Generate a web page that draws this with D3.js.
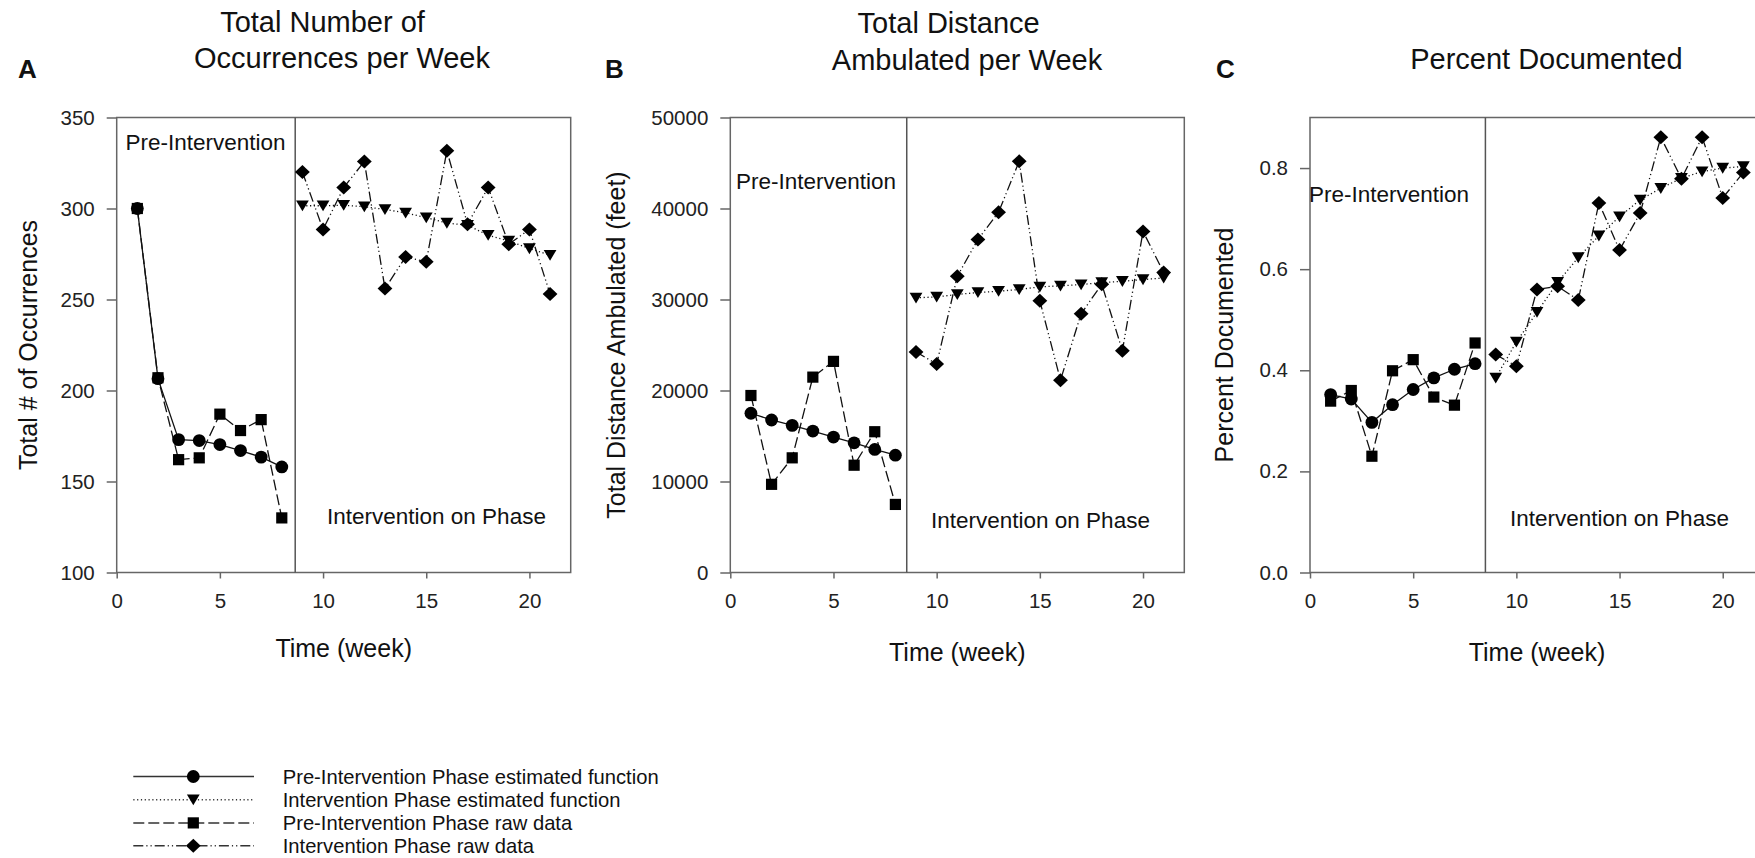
<!DOCTYPE html>
<html>
<head>
<meta charset="utf-8">
<script src="https://cdn.jsdelivr.net/npm/d3@7"></script>
<style>
  body { margin: 0; background: #fff; }
  svg { display: block; font-family: "Liberation Sans", Arial, sans-serif; }
</style>
</head>
<body>
<div id="chart"></div>
<script>
// weeks
const weeksPre = [1, 2, 3, 4, 5, 6, 7, 8];
const weeksInt = [9, 10, 11, 12, 13, 14, 15, 16, 17, 18, 19, 20, 21];

// A: total number of occurrences
const occPreEst = [300, 206.5, 173, 172.5, 170.3, 167, 163.4, 158];
const occPreRaw = [300, 207, 162, 163, 187, 178, 184, 130];
const occIntEst = [301.5, 301.5, 301.8, 301, 299.5, 297.6, 295, 292, 290.8, 285.3, 282.2, 278, 274.4];
const occIntRaw = [320, 288.5, 311.5, 325.8, 256, 273.4, 270.7, 331.7, 291.4, 311.5, 280.4, 288.5, 253];

// B: total distance ambulated
const distPreEst = [17500, 16760, 16170, 15540, 14880, 14250, 13520, 12890];
const distPreRaw = [19450, 9690, 12600, 21470, 23200, 11790, 15470, 7480];
const distIntEst = [30180, 30290, 30550, 30770, 30910, 31100, 31390, 31500, 31640, 31860, 32000, 32190, 32370];
const distIntRaw = [24240, 22910, 32550, 36600, 39600, 45180, 29850, 21140, 28430, 31680, 24380, 37480, 32960];

// C: percent documented
const docPreEst = [0.352, 0.343, 0.297, 0.332, 0.362, 0.385, 0.402, 0.413];
const docPreRaw = [0.339, 0.360, 0.230, 0.399, 0.421, 0.347, 0.331, 0.454];
const docIntEst = [0.385, 0.456, 0.515, 0.574, 0.623, 0.666, 0.704, 0.737, 0.760, 0.780, 0.793, 0.800, 0.803];
const docIntRaw = [0.431, 0.408, 0.560, 0.566, 0.539, 0.731, 0.638, 0.711, 0.861, 0.779, 0.861, 0.741, 0.791];

// axes
const xTicks = [0, 5, 10, 15, 20];
const occTicks = [100, 150, 200, 250, 300, 350];
const distTicks = [0, 10000, 20000, 30000, 40000, 50000];
const docTicks = [0, 0.2, 0.4, 0.6, 0.8];
const phaseBreaks = [8.65, 8.55, 8.5];

const legendLabels = [
  "Pre-Intervention Phase estimated function",
  "Intervention Phase estimated function",
  "Pre-Intervention Phase raw data",
  "Intervention Phase raw data"
];

const W = 1755, H = 858;
const plotTop = 117.5, plotBottom = 572.5, plotW = 454;

const svg = d3.select("#chart").append("svg")
  .attr("width", W).attr("height", H);

// series styles: solid/circle, dotted/triangle, dashed/square, dash-dot-dot/diamond
const styles = [
  {dash: null, shape: "circle"},
  {dash: "1.2,2.6", shape: "triangle"},
  {dash: "11,4", shape: "square"},
  {dash: "10,3,1.2,3,1.2,3", shape: "diamond"}
];

function marker(sel, shape) {
  if (shape == "circle") {
    sel.append("circle").attr("r", 6.4);
  } else if (shape == "square") {
    sel.append("rect").attr("x", -5.6).attr("y", -5.6).attr("width", 11.2).attr("height", 11.2);
  } else if (shape == "triangle") {
    sel.append("path").attr("d", "M-6.4,-5.2L6.4,-5.2L0,5.6Z");
  } else {
    sel.append("path").attr("d", "M0,-7L7.4,0L0,7L-7.4,0Z");
  }
}

const panels = [
  {
    left: 116.7, letter: "A", letterX: 18,
    title: [["Total Number of", 322.5, 32], ["Occurrences per Week", 342, 68]],
    yLabel: "Total # of Occurrences", yLabelX: 37, xLabelY: 657,
    domain: [100, 350], ticks: occTicks, fmt: d3.format("d"),
    pre: [125.5, 150], post: [327, 524],
    series: [occPreEst, occIntEst, occPreRaw, occIntRaw]
  },
  {
    left: 730.3, letter: "B", letterX: 605,
    title: [["Total Distance", 948.7, 33], ["Ambulated per Week", 967, 70]],
    yLabel: "Total Distance Ambulated (feet)", yLabelX: 625, xLabelY: 661,
    domain: [0, 50000], ticks: distTicks, fmt: d3.format("d"),
    pre: [736, 189], post: [931, 528],
    series: [distPreEst, distIntEst, distPreRaw, distIntRaw]
  },
  {
    left: 1310, letter: "C", letterX: 1216,
    title: [["Percent Documented", 1546.4, 69]],
    yLabel: "Percent Documented", yLabelX: 1233, xLabelY: 661,
    domain: [0, 0.9], ticks: docTicks, fmt: d3.format(".1f"),
    pre: [1309, 202], post: [1510, 526],
    series: [docPreEst, docIntEst, docPreRaw, docIntRaw]
  }
];

panels.forEach(function(p, i) {
  const x = d3.scaleLinear().domain([0, 22]).range([p.left, p.left + plotW]);
  const y = d3.scaleLinear().domain(p.domain).range([plotBottom, plotTop]);
  const g = svg.append("g");

  // panel letter and title
  g.append("text").attr("x", p.letterX).attr("y", 78)
    .attr("font-size", 26).attr("font-weight", "bold").attr("fill", "#111")
    .text(p.letter);
  p.title.forEach(function(t) {
    g.append("text").attr("x", t[1]).attr("y", t[2])
      .attr("text-anchor", "middle").attr("font-size", 29).attr("fill", "#111")
      .text(t[0]);
  });

  // frame
  g.append("rect")
    .attr("x", x(0)).attr("y", plotTop)
    .attr("width", x(22) - x(0)).attr("height", plotBottom - plotTop)
    .attr("fill", "none").attr("stroke", "#666").attr("stroke-width", 1.5);

  // phase line
  g.append("line")
    .attr("x1", x(phaseBreaks[i])).attr("x2", x(phaseBreaks[i]))
    .attr("y1", plotTop).attr("y2", plotBottom)
    .attr("stroke", "#555").attr("stroke-width", 1.5);

  // axes
  const ya = g.append("g").attr("transform", "translate(" + x(0) + ",0)")
    .call(d3.axisLeft(y).tickValues(p.ticks).tickFormat(p.fmt)
      .tickSizeInner(10).tickSizeOuter(0).tickPadding(12));
  const xa = g.append("g").attr("transform", "translate(0," + plotBottom + ")")
    .call(d3.axisBottom(x).tickValues(xTicks).tickFormat(d3.format("d"))
      .tickSizeInner(6).tickSizeOuter(0).tickPadding(15));
  [ya, xa].forEach(function(a) {
    a.select(".domain").remove();
    a.selectAll(".tick line").attr("stroke", "#666").attr("stroke-width", 1.5);
    a.selectAll(".tick text").attr("font-size", 20.5).attr("fill", "#222")
      .attr("font-family", "Liberation Sans, Arial, sans-serif");
  });

  // axis labels
  g.append("text").attr("x", x(11)).attr("y", p.xLabelY)
    .attr("text-anchor", "middle").attr("font-size", 25).attr("fill", "#111")
    .text("Time (week)");
  g.append("text")
    .attr("transform", "translate(" + p.yLabelX + "," + ((plotTop + plotBottom) / 2) + ") rotate(-90)")
    .attr("text-anchor", "middle").attr("font-size", 25).attr("fill", "#111")
    .text(p.yLabel);

  // phase labels
  g.append("text").attr("x", p.pre[0]).attr("y", p.pre[1])
    .attr("font-size", 22.5).attr("fill", "#111").text("Pre-Intervention");
  g.append("text").attr("x", p.post[0]).attr("y", p.post[1])
    .attr("font-size", 22.5).attr("fill", "#111").text("Intervention on Phase");

  // lines and markers
  p.series.forEach(function(vals, k) {
    const weeks = (k % 2 == 0) ? weeksPre : weeksInt;
    const pts = vals.map(function(v, j) { return [weeks[j], v]; });
    const line = d3.line().x(function(d) { return x(d[0]); }).y(function(d) { return y(d[1]); });
    g.append("path").datum(pts)
      .attr("d", line).attr("fill", "none")
      .attr("stroke", "#111").attr("stroke-width", 1.3)
      .attr("stroke-dasharray", styles[k].dash);
  });
  p.series.forEach(function(vals, k) {
    const weeks = (k % 2 == 0) ? weeksPre : weeksInt;
    g.selectAll(null).data(vals).enter().append("g")
      .attr("transform", function(v, j) { return "translate(" + x(weeks[j]) + "," + y(v) + ")"; })
      .attr("fill", "#000")
      .each(function() { marker(d3.select(this), styles[k].shape); });
  });
});

// legend
const legend = svg.append("g");
const rowY = [776.5, 799.7, 822.9, 845.8];
legendLabels.forEach(function(lbl, k) {
  legend.append("line")
    .attr("x1", 133.3).attr("x2", 254).attr("y1", rowY[k]).attr("y2", rowY[k])
    .attr("stroke", "#333").attr("stroke-width", 1.5)
    .attr("stroke-dasharray", styles[k].dash);
  const m = legend.append("g").attr("transform", "translate(193.3," + rowY[k] + ")").attr("fill", "#000");
  marker(m, styles[k].shape);
  legend.append("text").attr("x", 282.7).attr("y", rowY[k] + 7)
    .attr("font-size", 20.2).attr("fill", "#111").text(lbl);
});
</script>
</body>
</html>
